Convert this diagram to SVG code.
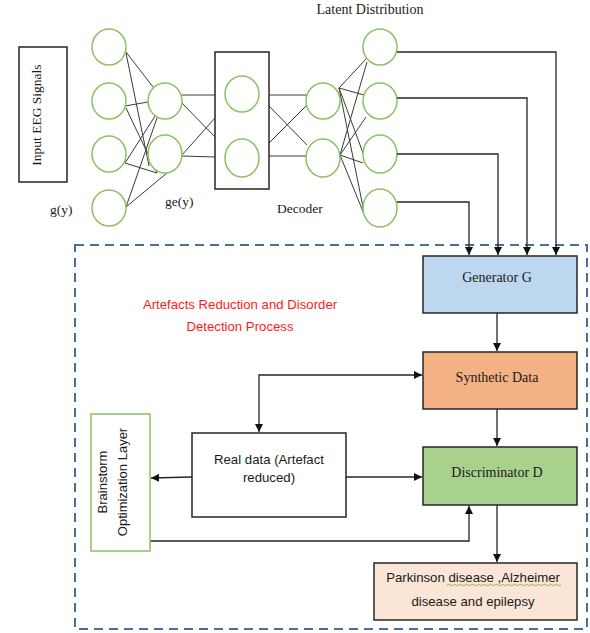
<svg xmlns="http://www.w3.org/2000/svg" width="590" height="633" viewBox="0 0 590 633">
<style>
.serif{font-family:"Liberation Serif","Times New Roman",serif;fill:#1a1a1a}
.sans{font-family:"Liberation Sans",Arial,sans-serif;fill:#1a1a1a}
.neuron{fill:#fff;stroke:#8cc063;stroke-width:1.5}
.box{stroke:#262626;stroke-width:1.5}
.nn line{stroke:#3a3a3a;stroke-width:1}
.conn{fill:none;stroke:#262626;stroke-width:1.3}
</style>
<defs>
<marker id="ah" markerUnits="userSpaceOnUse" markerWidth="9" markerHeight="8" refX="8" refY="4" orient="auto-start-reverse">
<path d="M0,0 L8,4 L0,8 z" fill="#111"/>
</marker>
</defs>
<rect width="590" height="633" fill="#fff"/>

<!-- dashed process region -->
<rect id="process-region" x="75" y="245" width="512" height="384" fill="none" stroke="#41719c" stroke-width="2" stroke-dasharray="9 6"/>

<g id="input-eeg">
<rect class="box" x="19" y="47" width="48" height="135" fill="#fff"/>
<text class="serif" font-size="13.5" text-anchor="middle" transform="translate(41,115) rotate(-90)">Input EEG Signals</text>
</g>

<g id="nn-lines" class="nn">
<line x1="126" y1="52" x2="153" y2="87"/>
<line x1="126" y1="53" x2="149" y2="166"/>
<line x1="125" y1="106" x2="148" y2="102"/>
<line x1="126" y1="108" x2="157" y2="173"/>
<line x1="125" y1="163" x2="157" y2="113"/>
<line x1="125" y1="163" x2="157" y2="173"/>
<line x1="126" y1="207" x2="157" y2="118"/>
<line x1="126" y1="207" x2="167" y2="173"/>
<line x1="182" y1="95" x2="215" y2="95"/>
<line x1="182" y1="103" x2="215" y2="137"/>
<line x1="182" y1="155" x2="215" y2="118"/>
<line x1="182" y1="156" x2="215" y2="157"/>
<line x1="269" y1="95" x2="307" y2="95"/>
<line x1="269" y1="106" x2="307" y2="145"/>
<line x1="269" y1="143" x2="307" y2="105"/>
<line x1="269" y1="156" x2="307" y2="156"/>
<line x1="339" y1="88" x2="367" y2="58"/>
<line x1="339" y1="88" x2="364" y2="95"/>
<line x1="339" y1="88" x2="363" y2="153"/>
<line x1="339" y1="88" x2="364" y2="212"/>
<line x1="340" y1="155" x2="367" y2="62"/>
<line x1="340" y1="155" x2="366" y2="117"/>
<line x1="340" y1="155" x2="363" y2="163"/>
<line x1="340" y1="155" x2="364" y2="214"/>
</g>

<g id="layer-g">
<ellipse class="neuron" cx="109" cy="47" rx="17" ry="18"/>
<ellipse class="neuron" cx="109" cy="101" rx="17" ry="18"/>
<ellipse class="neuron" cx="109" cy="154" rx="17" ry="18"/>
<ellipse class="neuron" cx="109" cy="208" rx="17" ry="18"/>
<text class="serif" font-size="13.5" x="50" y="214">g(y)</text>
</g>

<g id="layer-ge">
<ellipse class="neuron" cx="165" cy="101" rx="17" ry="18"/>
<ellipse class="neuron" cx="165" cy="154" rx="17" ry="19"/>
<text class="serif" font-size="13.5" x="165" y="206">ge(y)</text>
</g>

<g id="decoder">
<rect class="box" x="215" y="52" width="54" height="137" fill="none"/>
<ellipse class="neuron" cx="242" cy="94" rx="17" ry="18"/>
<ellipse class="neuron" cx="242" cy="158" rx="17" ry="19"/>
<text class="serif" font-size="13.5" x="277" y="213">Decoder</text>
</g>

<g id="layer-4">
<ellipse class="neuron" cx="323" cy="101" rx="17" ry="18"/>
<ellipse class="neuron" cx="323" cy="158" rx="17" ry="19"/>
</g>

<g id="latent-distribution">
<ellipse class="neuron" cx="380" cy="47" rx="17" ry="18"/>
<ellipse class="neuron" cx="380" cy="101" rx="17" ry="18"/>
<ellipse class="neuron" cx="380" cy="154" rx="17" ry="19"/>
<ellipse class="neuron" cx="380" cy="208" rx="17" ry="19"/>
<text class="serif" font-size="14" x="370" y="14" text-anchor="middle">Latent Distribution</text>
</g>

<g id="connectors">
<polyline class="conn" points="397,52 556,52 556,255" marker-end="url(#ah)"/>
<polyline class="conn" points="397,98 527,98 527,255" marker-end="url(#ah)"/>
<polyline class="conn" points="397,154 498,154 498,255" marker-end="url(#ah)"/>
<polyline class="conn" points="397,202 469,202 469,255" marker-end="url(#ah)"/>
<line class="conn" x1="497" y1="313" x2="497" y2="351" marker-end="url(#ah)"/>
<line class="conn" x1="497" y1="409" x2="497" y2="446" marker-end="url(#ah)"/>
<line class="conn" x1="497" y1="505" x2="497" y2="562" marker-end="url(#ah)"/>
<polyline class="conn" points="259,432 259,375 422,375" marker-start="url(#ah)" marker-end="url(#ah)"/>
<line class="conn" x1="346" y1="477" x2="422" y2="477" marker-end="url(#ah)"/>
<line class="conn" x1="192" y1="477" x2="151" y2="478" stroke="#555" marker-end="url(#ah)"/>
<polyline class="conn" points="150,541 469,541 469,506" stroke="#555" marker-end="url(#ah)"/>
</g>

<text id="process-label" class="sans" font-size="13.2" style="fill:#ff1a1a" text-anchor="middle"><tspan x="240" y="309">Artefacts Reduction and Disorder</tspan><tspan x="240" y="331">Detection Process</tspan></text>

<g id="generator">
<rect class="box" x="423" y="256" width="154" height="57" fill="#bdd7ee"/>
<text class="serif" font-size="14" x="497" y="282" text-anchor="middle">Generator G</text>
</g>

<g id="synthetic-data">
<rect class="box" x="423" y="352" width="154" height="57" fill="#f4b183"/>
<text class="serif" font-size="14" x="497" y="382" text-anchor="middle">Synthetic Data</text>
</g>

<g id="discriminator">
<rect class="box" x="423" y="447" width="154" height="58" fill="#a9d18e"/>
<text class="serif" font-size="14" x="497" y="477" text-anchor="middle">Discriminator D</text>
</g>

<g id="real-data">
<rect class="box" x="192" y="433" width="154" height="84" fill="#fff"/>
<text class="sans" font-size="13.2" text-anchor="middle"><tspan x="269" y="464">Real data (Artefact</tspan><tspan x="269" y="482">reduced)</tspan></text>
</g>

<g id="brainstorm">
<rect x="91" y="414" width="59" height="137" fill="#fff" stroke="#8cc063" stroke-width="1.5"/>
<text class="sans" font-size="13" text-anchor="middle" transform="translate(0,482) rotate(-90)"><tspan x="0" y="107">Brainstorm</tspan><tspan x="0" y="127">Optimization Layer</tspan></text>
</g>

<g id="disorders">
<rect class="box" x="374" y="563" width="203" height="57" fill="#fbe5d6"/>
<text class="sans" font-size="13.2" text-anchor="middle"><tspan x="473" y="582">Parkinson disease ,Alzheimer</tspan><tspan x="473" y="606">disease and epilepsy</tspan></text>
<path d="M447,585 q1.5,-1.5 3,0 t3,0 t3,0 t3,0 t3,0 t3,0 t3,0 t3,0 t3,0 t3,0 t3,0 t3,0 t3,0 t3,0 t3,0 t3,0 t3,0 t3,0 t3,0 t3,0 t3,0 t3,0 t3,0 t3,0 t3,0 t3,0 t3,0 t3,0 t3,0 t3,0 t3,0 t3,0 t3,0 t3,0 t3,0 t3,0 t3,0 t3,0" fill="none" stroke="#6aaa3a" stroke-width="0.8"/>
</g>
</svg>
